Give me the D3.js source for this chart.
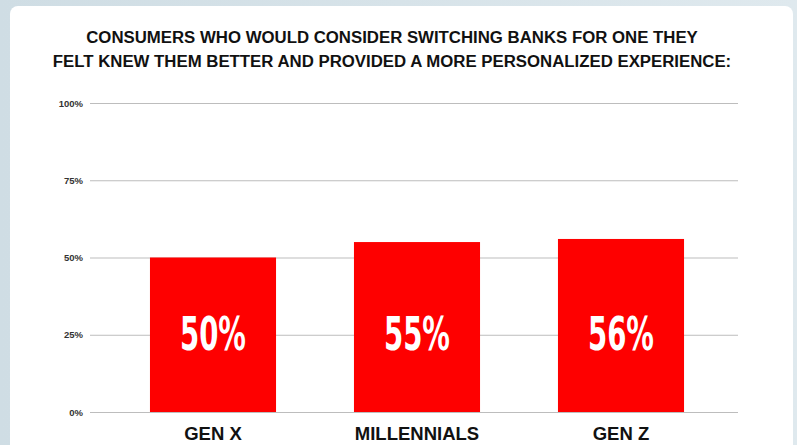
<!DOCTYPE html>
<html>
<head>
<meta charset="utf-8">
<script src="https://cdn.jsdelivr.net/npm/d3@7"></script>
<style>
  html, body { margin: 0; padding: 0; background: #dbe6eb; }
  svg { display: block; }
</style>
</head>
<body>
<svg id="chart" width="797" height="445"></svg>
<script>
// chart data
var categories = ['GEN X', 'MILLENNIALS', 'GEN Z'];
var values = [50, 55, 56];
var yTicks = [0, 25, 50, 75, 100];
var titleLines = [
  'CONSUMERS WHO WOULD CONSIDER SWITCHING BANKS FOR ONE THEY',
  'FELT KNEW THEM BETTER AND PROVIDED A MORE PERSONALIZED EXPERIENCE:'
];

const width = 797;
const height = 445;

var svg = d3.select('#chart');

// background + white card
var bg = svg.append('defs').append('linearGradient')
    .attr('id', 'bg').attr('x1', 0).attr('x2', 1);
bg.append('stop').attr('offset', '0').attr('stop-color', '#cfdde4');
bg.append('stop').attr('offset', '1').attr('stop-color', '#dfe9ee');
svg.append('rect').attr('width', width).attr('height', height).attr('fill', 'url(#bg)');

svg.append('rect')
    .attr('x', 10).attr('y', 6)
    .attr('width', 783).attr('height', 460)
    .attr('rx', 8)
    .attr('fill', '#ffffff');

var x = d3.scaleBand()
    .domain(categories)
    .range([111, 723])
    .paddingInner(0.382)
    .paddingOuter(0.191);

var y = d3.scaleLinear()
    .domain([0, 100])
    .range([412, 103]);

// title
svg.append('g').selectAll('text')
  .data(titleLines)
  .enter().append('text')
    .attr('x', 392)
    .attr('y', function(d, i) { return 43 + i * 24; })
    .attr('text-anchor', 'middle')
    .attr('font-family', 'Liberation Sans, Arial, sans-serif')
    .attr('font-weight', 'bold')
    .attr('font-size', 16.8)
    .attr('fill', '#111')
    .text(function(d) { return d; });

// gridlines + y labels
var yAxis = d3.axisLeft(y)
    .tickValues(yTicks)
    .tickSize(-(738 - 90))
    .tickPadding(7)
    .tickFormat(function(d) { return d + '%'; });

var gy = svg.append('g')
    .attr('transform', 'translate(90,0)')
    .call(yAxis);
gy.select('.domain').remove();
gy.selectAll('.tick line').attr('stroke', '#bdbdbd').attr('stroke-width', 1);
gy.selectAll('.tick text')
    .attr('font-family', 'Liberation Sans Narrow, Liberation Sans, Arial, sans-serif')
    .attr('font-weight', 'bold')
    .attr('font-size', 9.5)
    .attr('fill', '#333');

// bars
var bars = svg.append('g').selectAll('g')
  .data(values)
  .enter().append('g');

bars.append('rect')
    .attr('x', function(d, i) { return x(categories[i]); })
    .attr('y', function(d) { return y(d); })
    .attr('width', x.bandwidth())
    .attr('height', function(d) { return y(0) - y(d); })
    .attr('fill', '#fe0000');

bars.append('text')
    .attr('x', function(d, i) { return x(categories[i]) + x.bandwidth() / 2; })
    .attr('y', 350)
    .attr('text-anchor', 'middle')
    .attr('font-family', 'Liberation Sans Narrow, DejaVu Sans Condensed, sans-serif')
    .attr('font-weight', 'bold')
    .attr('font-size', 46)
    .attr('textLength', 66)
    .attr('lengthAdjust', 'spacingAndGlyphs')
    .attr('fill', '#ffffff')
    .text(function(d) { return d + '%'; });

// category labels
svg.append('g').selectAll('text')
  .data(categories)
  .enter().append('text')
    .attr('x', function(d) { return x(d) + x.bandwidth() / 2; })
    .attr('y', 440)
    .attr('text-anchor', 'middle')
    .attr('font-family', 'Liberation Sans, Arial, sans-serif')
    .attr('font-weight', 'bold')
    .attr('font-size', 18.5)
    .attr('fill', '#111')
    .text(function(d) { return d; });
</script>
</body>
</html>
